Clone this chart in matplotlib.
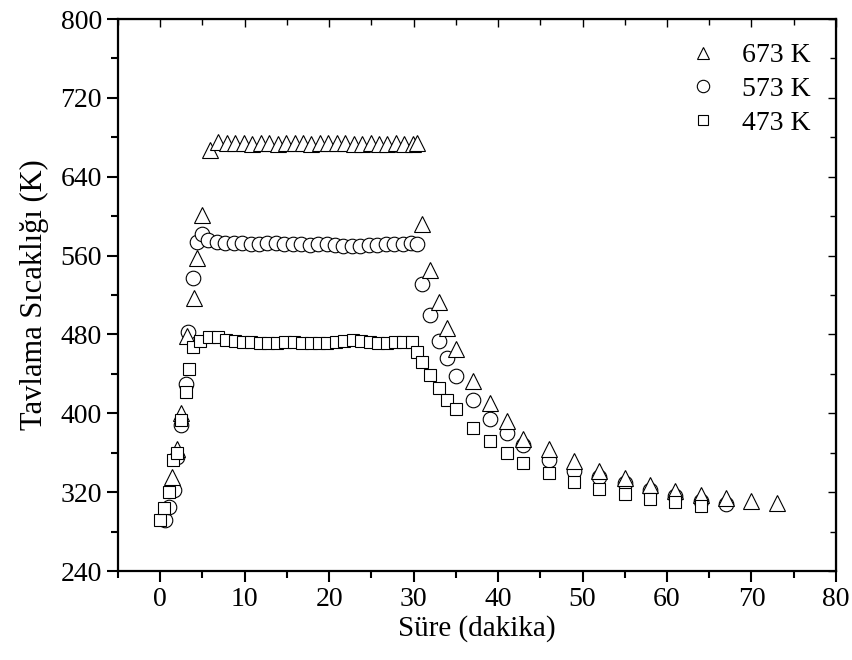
import matplotlib
matplotlib.use("Agg")
import matplotlib.pyplot as plt
from matplotlib.ticker import MultipleLocator

plt.rcParams["font.family"] = ["Liberation Serif", "DejaVu Serif"]

# 673 K (triangles)
t_673 = [1.4, 2.0, 2.5, 3.2, 4.0, 4.4, 5.0,
         5.9, 6.9, 7.9, 8.9, 9.9, 10.9, 11.9, 12.9, 13.9, 14.9, 15.9, 16.9, 17.9,
         18.9, 19.9, 20.9, 21.9, 22.9, 23.9, 24.9, 25.9, 26.9, 27.9, 28.9, 29.9,
         30.4, 31, 32, 33, 34, 35, 37, 39, 41, 43, 46, 49, 52, 55, 58, 61, 64, 67, 70, 73]
temp_673 = [335, 364, 400, 478, 517, 558, 601,
            667, 675, 674, 674, 674, 673, 674, 674, 673, 674, 674, 674, 673,
            674, 674, 674, 674, 673, 673, 674, 673, 673, 674, 673, 673,
            674, 592, 545, 513, 487, 465, 433, 410, 392, 374, 364, 352, 341, 334, 327, 321, 317, 314, 311, 309]

# 573 K (circles)
t_573 = [0.6, 1.1, 1.6, 2.0, 2.5, 3.0, 3.3, 3.9, 4.3, 4.9,
         5.7, 6.7, 7.7, 8.7, 9.7, 10.7, 11.7, 12.7, 13.7, 14.7, 15.7, 16.7, 17.7,
         18.7, 19.7, 20.7, 21.7, 22.7, 23.7, 24.7, 25.7, 26.7, 27.7, 28.7, 29.7,
         30.4, 31, 32, 33, 34, 35, 37, 39, 41, 43, 46, 49, 52, 55, 58, 61, 64, 67]
temp_573 = [292, 305, 322, 356, 388, 430, 482, 537, 574, 582,
            576, 574, 573, 573, 573, 572, 572, 573, 573, 572, 572, 572, 571,
            572, 572, 571, 570, 570, 570, 571, 571, 572, 572, 572, 573,
            572, 531, 500, 473, 456, 438, 414, 394, 380, 368, 353, 341, 335, 329, 322, 316, 311, 308]

# 473 K (squares)
t_473 = [0, 0.5, 1.0, 1.5, 2.0, 2.5, 3.0, 3.4, 3.9, 4.7,
         5.8, 6.8, 7.8, 8.8, 9.8, 10.8, 11.8, 12.8, 13.8, 14.8, 15.8, 16.8, 17.8,
         18.8, 19.8, 20.8, 21.8, 22.8, 23.8, 24.8, 25.8, 26.8, 27.8, 28.8, 29.8,
         30.4, 31, 32, 33, 34, 35, 37, 39, 41, 43, 46, 49, 52, 55, 58, 61, 64]
temp_473 = [292, 304, 320, 353, 360, 393, 422, 445, 467, 473,
            477, 477, 474, 473, 472, 472, 471, 471, 471, 472, 472, 471, 471,
            471, 471, 472, 473, 474, 473, 472, 471, 471, 472, 472, 472,
            462, 452, 439, 426, 413, 404, 385, 372, 360, 350, 339, 330, 323, 318, 313, 310, 306]

x_ticks = [0, 10, 20, 30, 40, 50, 60, 70, 80]
y_ticks = [240, 320, 400, 480, 560, 640, 720, 800]

fig = plt.figure(figsize=(8.53, 6.6), dpi=100)
ax = fig.add_axes([0.1383, 0.1348, 0.8417, 0.8364])

style = dict(linestyle="none", markerfacecolor="white", markeredgecolor="black", markeredgewidth=0.8)
h1, = ax.plot(t_573, temp_573, marker="o", markersize=10.5, zorder=2, label="573 K", **style)
h0, = ax.plot(t_673, temp_673, marker="^", markersize=11, zorder=3, label="673 K", **style)
h2, = ax.plot(t_473, temp_473, marker="s", markersize=9, zorder=4, label="473 K", **style)

ax.set_xlim(-5, 80)
ax.set_ylim(240, 800)
ax.set_xticks(x_ticks)
ax.set_yticks(y_ticks)
ax.xaxis.set_minor_locator(MultipleLocator(5))
ax.yaxis.set_minor_locator(MultipleLocator(40))
ax.tick_params(which="both", direction="out", width=1.5, labelsize=20)
ax.tick_params(which="major", length=8)
ax.tick_params(which="minor", length=5)
for s in ax.spines.values():
    s.set_linewidth(1.6)

# inward ticks on top and right, no labels
top = ax.secondary_xaxis("top")
top.set_xticks(x_ticks)
top.xaxis.set_minor_locator(MultipleLocator(5))
top.tick_params(which="both", direction="in", width=1.0, labeltop=False)
top.tick_params(which="major", length=6)
top.tick_params(which="minor", length=4)
right = ax.secondary_yaxis("right")
right.set_yticks(y_ticks)
right.yaxis.set_minor_locator(MultipleLocator(40))
right.tick_params(which="both", direction="in", width=1.0, labelright=False)
right.tick_params(which="major", length=6)
right.tick_params(which="minor", length=4)

ax.set_xlabel("Süre (dakika)", fontsize=21, labelpad=2)
ax.set_ylabel("Tavlama Sıcaklığı (K)", fontsize=22, labelpad=8)

ax.legend(handles=[h0, h1, h2], loc="upper right", frameon=False, fontsize=20,
          labelspacing=0.3, handlelength=1.0, handletextpad=0.9, markerscale=0.85,
          borderaxespad=0.2, bbox_to_anchor=(0.988, 0.987))

fig.savefig("out.png", dpi=100)
